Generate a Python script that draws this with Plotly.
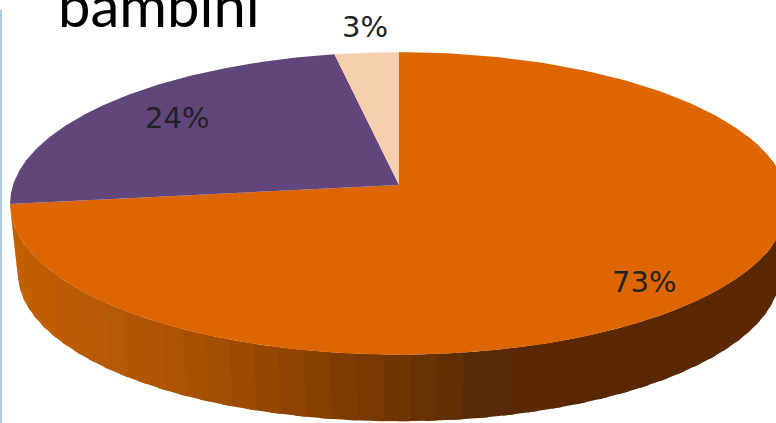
import numpy as np
import plotly.graph_objects as go

# chart data
categories = ["A", "B", "C"]
percent = [73, 24, 3]
slice_colors = ["#DE6600", "#60467A", "#F6D0AE"]
title_text = "bambini"

# where the pie sits in the 776x423 page (perspective view of a disc)
CX, CY = 399, 185
SX, SY = 386, 149
PERSP = 0.122
DEPTH, SHRINK = 70, 0.98

# side wall shading, left to right
WALL_X = [10, 100, 200, 300, 400, 470, 540, 780]
WALL_R = [0xC4, 0xB8, 0xA6, 0x8C, 0x6E, 0x58, 0x5A, 0x5A]
WALL_G = [0x60, 0x5A, 0x50, 0x42, 0x34, 0x2B, 0x28, 0x28]
WALL_B = [0x00, 0x08, 0x02, 0x00, 0x00, 0x04, 0x00, 0x00]


def top_ring(deg):
    """Angle clockwise from 12 o'clock -> page pixels on the top face."""
    a = np.radians(deg)
    w = 1 + PERSP * np.cos(a)
    return CX + SX * np.sin(a) / w, CY - SY * np.cos(a) / w


def bottom_ring(deg):
    x, y = top_ring(deg)
    return CX + (x - CX) * SHRINK, CY + DEPTH + (y - CY) * SHRINK


def fill_trace(x, y, color):
    return go.Scatter(x=x, y=y, mode="lines", fill="toself", fillcolor=color,
                      line=dict(color=color, width=0), hoverinfo="skip", showlegend=False)


fig = go.Figure()

edges = np.cumsum([0] + percent) * 3.6

# side wall of the big slice, in narrow bands; each band runs under the next so no seams show
wall_edges = np.arange(70, edges[1] + 3.5, 3.5)
wall_edges[-1] = edges[1]
for a0, a1 in zip(wall_edges[:-1], wall_edges[1:]):
    t = np.linspace(a0, min(a1 + 1.5, edges[1]), 8)
    tx, ty = top_ring(t)
    bx, by = bottom_ring(t)
    mid = (tx.mean() + bx.mean()) / 2
    color = "rgb(%d,%d,%d)" % (np.interp(mid, WALL_X, WALL_R), np.interp(mid, WALL_X, WALL_G),
                               np.interp(mid, WALL_X, WALL_B))
    fig.add_trace(fill_trace(np.r_[tx, bx[::-1]], np.r_[ty, by[::-1]], color))

# top face
for i, color in enumerate(slice_colors):
    t = np.linspace(edges[i], edges[i + 1], 200)
    x, y = top_ring(t)
    fig.add_trace(fill_trace(np.r_[CX, x, CX], np.r_[CY, y, CY], color))

# slice labels
label_pos = [(644, 282), (177, 118), (365, 27)]
for value, (lx, ly) in zip(percent, label_pos):
    fig.add_annotation(x=lx, y=ly, text=f"{value}%", showarrow=False,
                       font=dict(family="DejaVu Sans", size=29, color="#222222"))

# the title is cut by the top of the picture in the reference too
fig.add_annotation(x=159, y=4, text=title_text, showarrow=False,
                   font=dict(family="Lato", size=58, color="#000000"))

# light blue strip on the left edge of the slide
fig.add_shape(type="rect", x0=0, x1=2, y0=10, y1=423, fillcolor="#A9C7E0", line_width=0, layer="above")

fig.update_layout(
    width=776,
    height=423,
    margin=dict(l=0, r=0, t=0, b=0),
    paper_bgcolor="white",
    plot_bgcolor="white",
    xaxis=dict(range=[0, 776], visible=False, fixedrange=True),
    yaxis=dict(range=[423, 0], visible=False, fixedrange=True),
    showlegend=False,
)

fig.write_html("out.html", config=dict(displayModeBar=False),
               post_script="document.body.style.margin='0';document.body.style.overflow='hidden';")
